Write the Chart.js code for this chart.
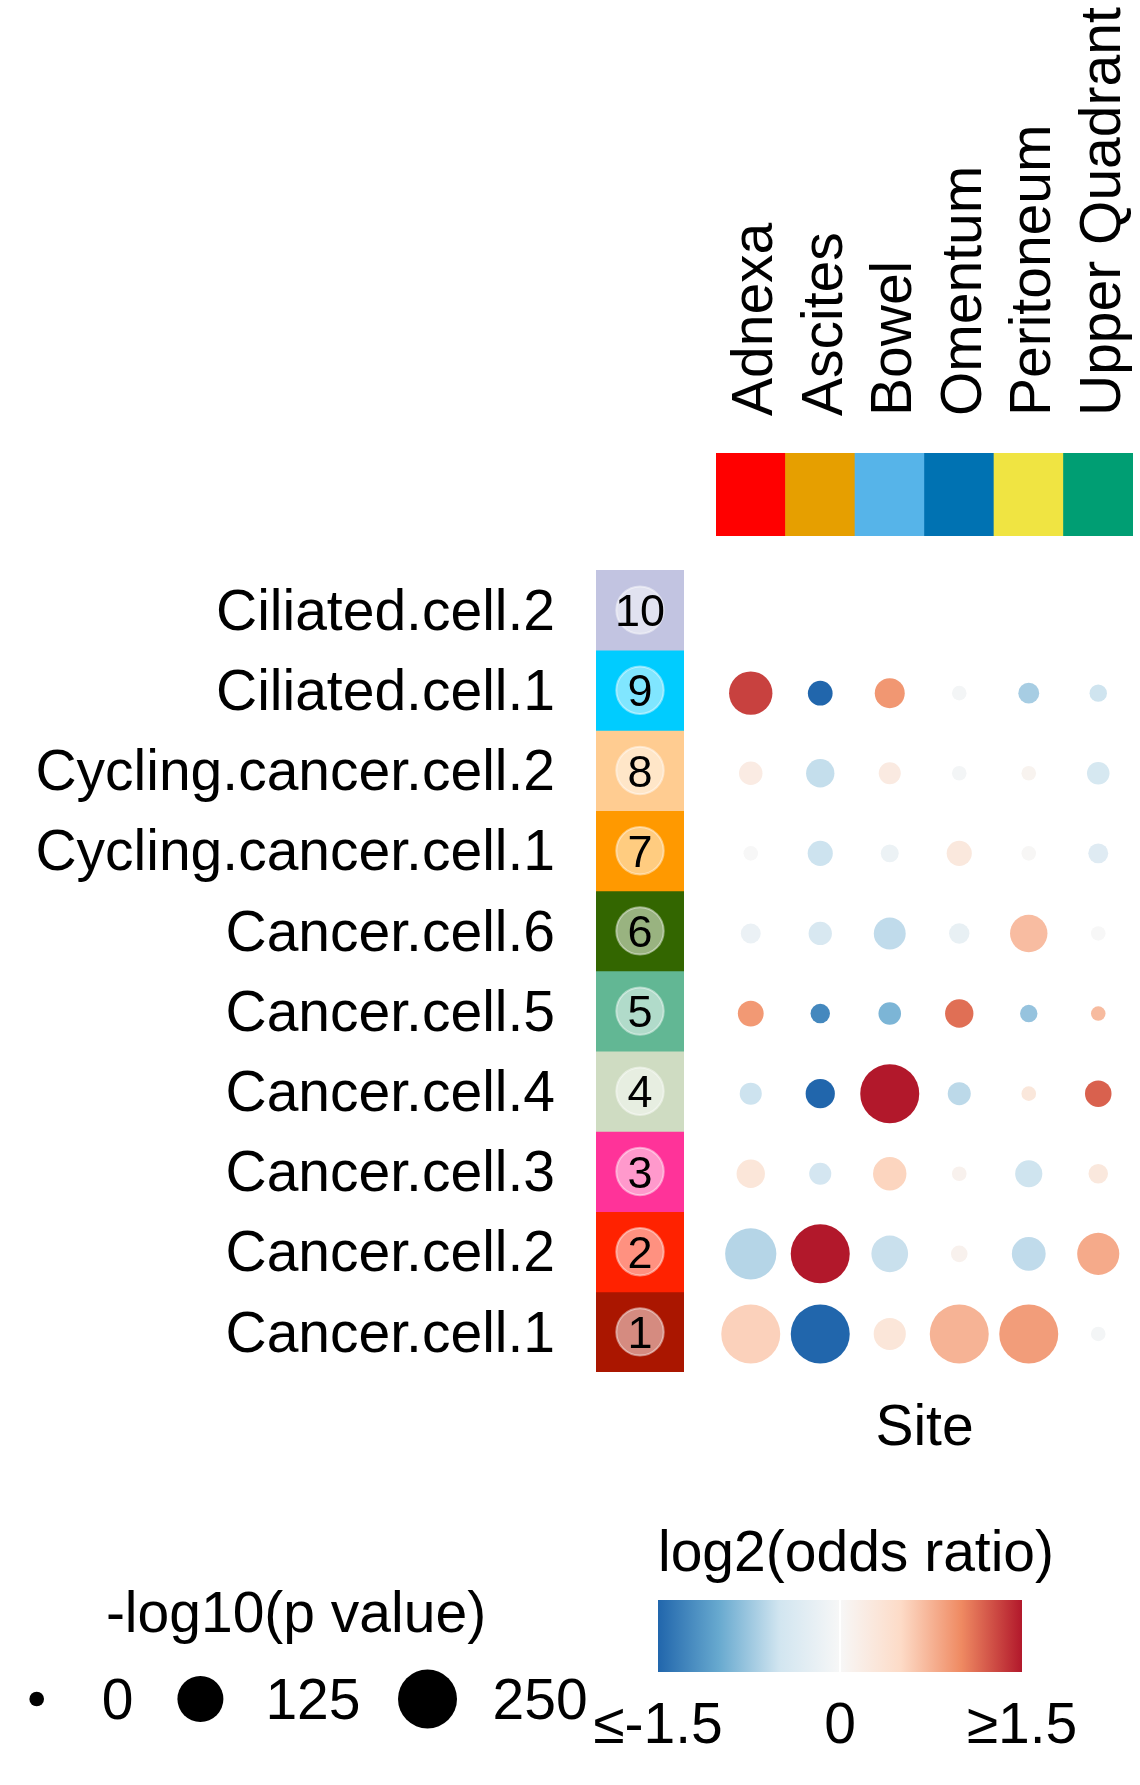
<!DOCTYPE html>
<html>
<head>
<meta charset="utf-8">
<script src="https://cdn.jsdelivr.net/npm/chart.js@4.4.1/dist/chart.umd.min.js"></script>
<style>
  html, body { margin: 0; padding: 0; background: #ffffff; width: 1140px; height: 1785px; overflow: hidden; position: relative; }
  canvas { position: absolute; display: block; }
</style>
</head>
<body>
<canvas id="header"></canvas>
<canvas id="strip"></canvas>
<canvas id="dots"></canvas>
<canvas id="sizeLegend"></canvas>
<canvas id="colorLegend"></canvas>
<script>
// ---------------- DATA ----------------
const sites = ['Adnexa', 'Ascites', 'Bowel', 'Omentum', 'Peritoneum', 'Upper Quadrant'];
const siteColors = ['#FF0000', '#E69F00', '#56B4E9', '#0072B2', '#F0E442', '#009E73'];

// clusters, bottom (1) to top (10)
const clusters = ['Cancer.cell.1', 'Cancer.cell.2', 'Cancer.cell.3', 'Cancer.cell.4', 'Cancer.cell.5',
                  'Cancer.cell.6', 'Cycling.cancer.cell.1', 'Cycling.cancer.cell.2', 'Ciliated.cell.1', 'Ciliated.cell.2'];
const clusterNumbers = ['1', '2', '3', '4', '5', '6', '7', '8', '9', '10'];
const clusterColors = ['#AA1600', '#FF2200', '#FF3399', '#CFDCC2', '#62B794',
                       '#336600', '#FF9900', '#FFCC91', '#00CCFF', '#C2C4E1'];

// log2(odds ratio) per cluster (rows) and site (columns); Ciliated.cell.2 has none
const log2OddsRatio = [
  [ 0.56, -1.50,  0.31,  0.75,  0.88, -0.05],
  [-0.63,  1.50, -0.54,  0.10, -0.58,  0.80],
  [ 0.31, -0.46,  0.54,  0.10, -0.51,  0.27],
  [-0.52, -1.50,  1.50, -0.60,  0.29,  1.18],
  [ 0.91, -1.25, -0.90,  1.12, -0.78,  0.70],
  [-0.16, -0.41, -0.58, -0.20,  0.69,  0.00],
  [ 0.00, -0.52, -0.15,  0.27,  0.02, -0.32],
  [ 0.21, -0.56,  0.23, -0.05,  0.08, -0.43],
  [ 1.32, -1.50,  0.92, -0.05, -0.70, -0.51]
];
// -log10(p value) per cluster and site
const negLog10P = [
  [250, 250,  39, 250, 250,   0],
  [170, 250,  62, 0.5,  47,  96],
  [ 24,   7,  45,   0,  20,   3],
  [  7,  27, 250,   9,   0,  18],
  [ 16,   3,   8,  24,   1,   0],
  [3.6, 9.6,  38, 4.2,  66,   0],
  [  0,  14, 1.4,  14,   0, 3.6],
  [ 10,  24,   7,   0,   0,   8],
  [105,  13,  30,   0,   5,   1]
];

const sizeLegendValues = [0, 125, 250];
const colorLegendTicks = [-1.5, 0, 1.5];
const colorLegendLabels = ['\u2264-1.5', '0', '\u22651.5'];

// RdBu palette stops
const paletteValues = [-1.5, -1, -0.5, 0, 0.5, 1, 1.5];
const paletteColors = ['#2166AC', '#67A9CF', '#D1E5F0', '#F7F7F7', '#FDDBC7', '#EF8A62', '#B2182B'];

// ---------------- STYLE HELPERS ----------------
const FONT = "'Liberation Sans', Arial, Helvetica, sans-serif";
const BIG = 57;
Chart.defaults.font.family = FONT;
Chart.defaults.font.size = BIG;
Chart.defaults.color = '#000';
Chart.defaults.animation = false;
Chart.defaults.events = [];
Chart.defaults.plugins.legend.display = false;
Chart.defaults.plugins.tooltip.enabled = false;

const R_MIN = 7.3, R_MAX = 29.5, P_MAX = 250;
function pSize(p) { return R_MIN + (R_MAX - R_MIN) * Math.sqrt(Math.max(0, Math.min(p, P_MAX)) / P_MAX); }

function hexToRgb(h) { const n = parseInt(h.slice(1), 16); return [(n >> 16) & 255, (n >> 8) & 255, n & 255]; }
function oddsColor(v) {
  const x = Math.max(paletteValues[0], Math.min(paletteValues[paletteValues.length - 1], v));
  let i = 0;
  while (i < paletteValues.length - 2 && x > paletteValues[i + 1]) i++;
  const t = (x - paletteValues[i]) / (paletteValues[i + 1] - paletteValues[i]);
  const a = hexToRgb(paletteColors[i]), b = hexToRgb(paletteColors[i + 1]);
  const c = a.map((ai, k) => Math.round(ai + (b[k] - ai) * t));
  return `rgb(${c[0]},${c[1]},${c[2]})`;
}

function place(id, left, top, w, h) {
  const c = document.getElementById(id);
  c.width = w; c.height = h;
  c.style.left = left + 'px'; c.style.top = top + 'px';
  c.style.width = w + 'px'; c.style.height = h + 'px';
  return c;
}
const base = { responsive: false, devicePixelRatio: 1, animation: false, events: [],
               layout: { padding: 0, autoPadding: false } };
function noScalePadding(s) { s.paddingLeft = 0; s.paddingRight = 0; s.paddingTop = 0; s.paddingBottom = 0; }

// ---------------- HEADER (site colour bar + rotated labels) ----------------
new Chart(place('header', 716, 0, 417, 536), {
  type: 'bar',
  data: {
    labels: sites,
    datasets: [{ data: sites.map(() => 1), backgroundColor: siteColors, borderWidth: 0,
                 barPercentage: 1, categoryPercentage: 1, borderSkipped: false }]
  },
  options: Object.assign({}, base, {
    scales: {
      x: {
        position: 'top',
        grid: { display: false, drawTicks: false }, border: { display: false },
        ticks: { autoSkip: false, minRotation: 90, maxRotation: 90, padding: 37, labelOffset: 74,
                 font: { size: BIG }, color: '#000' },
        afterFit: s => { s.height = 453; noScalePadding(s); }
      },
      y: { display: false, min: 0, max: 1 }
    }
  })
});

// ---------------- CLUSTER STRIP ----------------
const badgePlugin = {
  id: 'badges',
  afterDatasetsDraw(chart) {
    const ctx = chart.ctx;
    chart.getDatasetMeta(0).data.forEach((el, i) => {
      const cx = (el.x + el.base) / 2, cy = el.y;
      ctx.save();
      ctx.beginPath();
      ctx.arc(cx, cy, 23.7, 0, Math.PI * 2);
      ctx.fillStyle = 'rgba(255,255,255,0.5)';
      ctx.fill();
      ctx.lineWidth = 2;
      ctx.strokeStyle = 'rgba(255,255,255,0.45)';
      ctx.stroke();
      ctx.fillStyle = '#000';
      ctx.font = `45px ${FONT}`;
      ctx.textAlign = 'center';
      ctx.textBaseline = 'alphabetic';
      ctx.fillText(clusterNumbers[i], cx, cy + 0.358 * 45);
      ctx.restore();
    });
  }
};
new Chart(place('strip', 0, 570, 684, 802), {
  type: 'bar',
  data: {
    labels: clusters,
    datasets: [{ data: clusters.map(() => 1), backgroundColor: clusterColors, borderWidth: 0,
                 barPercentage: 1, categoryPercentage: 1, borderSkipped: false }]
  },
  options: Object.assign({}, base, {
    indexAxis: 'y',
    scales: {
      x: { display: false, min: 0, max: 1 },
      y: {
        reverse: true,
        grid: { display: false, drawTicks: false }, border: { display: false },
        ticks: { autoSkip: false, padding: 41, labelOffset: 4, font: { size: BIG }, color: '#000' },
        afterFit: s => { s.width = 596; noScalePadding(s); }
      }
    }
  }),
  plugins: [badgePlugin]
});

// ---------------- DOT PLOT ----------------
const dotData = [];
log2OddsRatio.forEach((row, c) => {
  row.forEach((v, s) => dotData.push({ x: s + 1, y: c + 1, v: v, p: negLog10P[c][s] }));
});
new Chart(place('dots', 716, 573, 417, 890), {
  type: 'bubble',
  data: {
    datasets: [{
      data: dotData,
      backgroundColor: ctx => (ctx.raw ? oddsColor(ctx.raw.v) : '#ccc'),
      radius: ctx => (ctx.raw ? pSize(ctx.raw.p) : 0),
      borderWidth: 0, hoverBorderWidth: 0, clip: false
    }]
  },
  options: Object.assign({}, base, {
    scales: {
      x: {
        type: 'linear', min: 0.5, max: 6.5,
        ticks: { display: false }, grid: { display: false, drawTicks: false }, border: { display: false },
        title: { display: true, text: 'Site', font: { size: BIG }, color: '#000', padding: { top: 0, bottom: 0 } },
        afterFit: s => { s.height = 89; noScalePadding(s); }
      },
      y: { type: 'linear', min: 0.5, max: 10.5, display: false }
    }
  })
});

// ---------------- SIZE LEGEND ----------------
const mctx = document.createElement('canvas').getContext('2d');
mctx.font = `${BIG}px ${FONT}`;
const KEY_TO_LABEL = 65, LABEL_TO_KEY = 67, FIRST_KEY = 7.2 + R_MAX;
const sizeKeyX = [];
{
  let cur = FIRST_KEY;
  sizeLegendValues.forEach(v => {
    sizeKeyX.push(cur);
    cur += KEY_TO_LABEL + mctx.measureText(String(v)).width + LABEL_TO_KEY;
  });
}
const sizeLabelPlugin = {
  id: 'sizeLabels',
  afterDatasetsDraw(chart) {
    const ctx = chart.ctx;
    ctx.save();
    ctx.fillStyle = '#000';
    ctx.font = `${BIG}px ${FONT}`;
    ctx.textAlign = 'left';
    ctx.textBaseline = 'alphabetic';
    chart.getDatasetMeta(0).data.forEach((el, i) => {
      ctx.fillText(String(sizeLegendValues[i]), el.x + KEY_TO_LABEL, el.y + 0.358 * BIG);
    });
    ctx.restore();
  }
};
new Chart(place('sizeLegend', 0, 1540, 592, 198), {
  type: 'bubble',
  data: {
    datasets: [{
      data: sizeLegendValues.map((v, i) => ({ x: sizeKeyX[i], y: 0.5, p: v })),
      backgroundColor: '#000',
      radius: ctx => (ctx.raw ? pSize(ctx.raw.p) : 0),
      borderWidth: 0, clip: false
    }]
  },
  options: Object.assign({}, base, {
    scales: {
      x: { type: 'linear', min: 0, max: 592, display: false },
      y: { type: 'linear', min: 0, max: 1, display: false }
    },
    plugins: {
      legend: { display: false }, tooltip: { enabled: false },
      title: { display: true, text: '-log10(p value)', color: '#000',
               font: { size: BIG, weight: 'normal' }, padding: { top: 42, bottom: 9.6 } }
    }
  }),
  plugins: [sizeLabelPlugin]
});

// ---------------- COLOUR LEGEND ----------------
const colorLegendPlugin = {
  id: 'colorLegendExtras',
  afterDatasetsDraw(chart) {
    const ctx = chart.ctx, area = chart.chartArea, xs = chart.scales.x;
    ctx.save();
    const x0 = xs.getPixelForValue(0);
    ctx.strokeStyle = '#ffffff';
    ctx.lineWidth = 2;
    ctx.beginPath();
    ctx.moveTo(x0, area.top); ctx.lineTo(x0, area.bottom);
    ctx.stroke();
    ctx.fillStyle = '#000';
    ctx.font = `${BIG}px ${FONT}`;
    ctx.textAlign = 'left';
    ctx.textBaseline = 'alphabetic';
    ctx.fillText('log2(odds ratio)', area.left, area.top - 29);
    ctx.restore();
  }
};
new Chart(place('colorLegend', 590, 1500, 492, 260), {
  type: 'bar',
  data: {
    labels: [''],
    datasets: [{
      data: [[colorLegendTicks[0], colorLegendTicks[colorLegendTicks.length - 1]]],
      backgroundColor: ctx => {
        const chart = ctx.chart;
        if (!chart.chartArea) return '#F7F7F7';
        const xs = chart.scales.x;
        const g = chart.ctx.createLinearGradient(xs.getPixelForValue(paletteValues[0]), 0,
                                                 xs.getPixelForValue(paletteValues[paletteValues.length - 1]), 0);
        const span = paletteValues[paletteValues.length - 1] - paletteValues[0];
        paletteValues.forEach((v, i) => g.addColorStop((v - paletteValues[0]) / span, paletteColors[i]));
        return g;
      },
      borderWidth: 0, barPercentage: 1, categoryPercentage: 1, borderSkipped: false
    }]
  },
  options: Object.assign({}, base, {
    indexAxis: 'y',
    layout: { padding: { left: 68, right: 60, top: 100, bottom: 0 }, autoPadding: false },
    scales: {
      x: {
        type: 'linear', min: -1.5, max: 1.5,
        grid: { display: false, drawTicks: false }, border: { display: false },
        afterBuildTicks: s => { s.ticks = colorLegendTicks.map(v => ({ value: v })); },
        ticks: { autoSkip: false, maxRotation: 0, minRotation: 0, padding: 21, font: { size: BIG }, color: '#000',
                 callback: (v, i) => colorLegendLabels[i] },
        afterFit: s => { s.height = 88; noScalePadding(s); }
      },
      y: { display: false }
    }
  }),
  plugins: [colorLegendPlugin]
});
</script>
</body>
</html>
